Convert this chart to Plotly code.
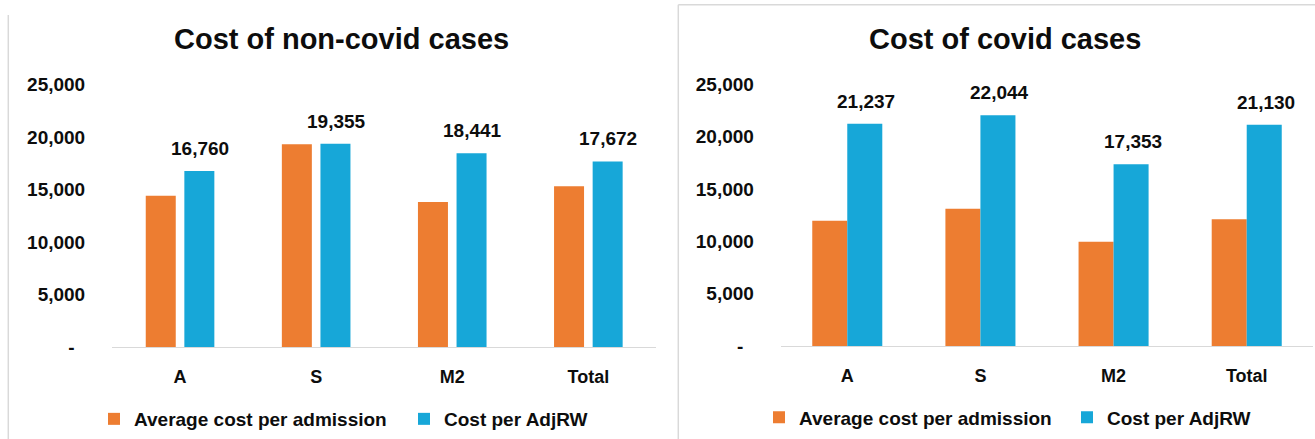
import plotly.graph_objects as go

# ---------------- data ----------------
categories = ["A", "S", "M2", "Total"]
series_names = ["Average cost per admission", "Cost per AdjRW"]
chart_titles = ["Cost of non-covid cases", "Cost of covid cases"]

noncovid_avg_cost = [14400, 19300, 13800, 15300]
noncovid_cost_adjrw = [16760, 19355, 18441, 17672]

covid_avg_cost = [11970, 13110, 9960, 12120]
covid_cost_adjrw = [21237, 22044, 17353, 21130]

y_tick_values = [0, 5000, 10000, 15000, 20000, 25000]
y_tick_labels = ["-\u00a0\u00a0", "5,000", "10,000", "15,000", "20,000", "25,000"]

# ---------------- styling ----------------
W, H = 1315, 439
ORANGE = "#ED7D31"
BLUE = "#17A7D8"
TEXT = "#0d0d0d"
GRID = "#d9d9d9"
FONT = "Liberation Sans, Arial, sans-serif"


def px(x):
    return x / W


def py(y):
    return 1 - y / H


fig = go.Figure()

# left chart (non-covid)
fig.add_trace(go.Bar(x=categories, y=noncovid_avg_cost, name=series_names[0],
                     marker=dict(color=ORANGE, line=dict(width=0)), legendwidth=265,
                     width=0.2204, offset=-0.252, xaxis="x", yaxis="y", legend="legend"))
fig.add_trace(go.Bar(x=categories, y=noncovid_cost_adjrw, name=series_names[1],
                     marker=dict(color=BLUE, line=dict(width=0)), legendwidth=150,
                     width=0.2204, offset=0.0316, xaxis="x", yaxis="y", legend="legend"))

# right chart (covid)
fig.add_trace(go.Bar(x=categories, y=covid_avg_cost, name=series_names[0],
                     marker=dict(color=ORANGE, line=dict(width=0)), legendwidth=263,
                     width=0.263, offset=-0.263, xaxis="x2", yaxis="y2", legend="legend2"))
fig.add_trace(go.Bar(x=categories, y=covid_cost_adjrw, name=series_names[1],
                     marker=dict(color=BLUE, line=dict(width=0)), legendwidth=150,
                     width=0.263, offset=0.0, xaxis="x2", yaxis="y2", legend="legend2"))

annotations = []
# data labels above the blue bars
for c, v in zip(categories, noncovid_cost_adjrw):
    annotations.append(dict(x=c, y=v, xref="x", yref="y", text=f"{v:,}", showarrow=False,
                            yanchor="bottom", yshift=10, xshift=20,
                            font=dict(family=FONT, size=19, color=TEXT, weight="bold")))
for c, v in zip(categories, covid_cost_adjrw):
    annotations.append(dict(x=c, y=v, xref="x2", yref="y2", text=f"{v:,}", showarrow=False,
                            yanchor="bottom", yshift=10, xshift=19,
                            font=dict(family=FONT, size=19, color=TEXT, weight="bold")))

# chart titles
for t, cx in zip(chart_titles, [341.7, 1005.4]):
    annotations.append(dict(x=px(cx), y=py(38.7), xref="paper", yref="paper", text=t,
                            showarrow=False, xanchor="center", yanchor="middle",
                            font=dict(family=FONT, size=29, color=TEXT, weight="bold")))

xaxis_common = dict(type="category", range=[-0.5, 3.5], showgrid=False, zeroline=False,
                    showline=True, linecolor=GRID, linewidth=1,
                    ticks="outside", ticklen=13, tickcolor="rgba(0,0,0,0)",
                    tickfont=dict(family=FONT, size=18, color=TEXT, weight="bold"),
                    fixedrange=True, automargin=False)
yaxis_common = dict(range=[0, 25000], tickmode="array", tickvals=y_tick_values,
                    ticktext=y_tick_labels, showgrid=False, zeroline=False, showline=False,
                    ticks="outside", ticklen=22, tickcolor="rgba(0,0,0,0)",
                    tickfont=dict(family=FONT, size=19, color=TEXT, weight="bold"),
                    fixedrange=True, automargin=False)

legend_common = dict(orientation="h", xanchor="left", yanchor="middle",
                     bgcolor="rgba(0,0,0,0)", borderwidth=0,
                     font=dict(family=FONT, size=19, color=TEXT, weight="bold"),
                     itemclick=False, itemdoubleclick=False)

fig.update_layout(
    width=W, height=H, autosize=False,
    margin=dict(l=0, r=0, t=0, b=0, autoexpand=False),
    paper_bgcolor="white", plot_bgcolor="white",
    barmode="group",
    hovermode=False,
    xaxis=dict(domain=[px(112), px(656.4)], anchor="y", **xaxis_common),
    yaxis=dict(domain=[py(347.3), py(84.3)], anchor="x", **yaxis_common),
    xaxis2=dict(domain=[px(780.7), px(1313.3)], anchor="y2", **xaxis_common),
    yaxis2=dict(domain=[py(346), py(84.3)], anchor="x2", **yaxis_common),
    legend=dict(x=px(94), y=py(419), **legend_common),
    legend2=dict(x=px(759), y=py(417.5), **legend_common),
    annotations=annotations,
    shapes=[
        dict(type="line", xref="paper", yref="paper", x0=px(8.3), x1=px(8.3), y0=py(15), y1=0,
             line=dict(color=GRID, width=1.5)),
        dict(type="line", xref="paper", yref="paper", x0=px(678.3), x1=px(678.3), y0=py(4.7), y1=0,
             line=dict(color=GRID, width=1.5)),
        dict(type="line", xref="paper", yref="paper", x0=px(678.3), x1=1, y0=py(4.7), y1=py(4.7),
             line=dict(color=GRID, width=1.5)),
    ],
    showlegend=True,
)

fig.write_html("out.html",
               config={"displayModeBar": False, "staticPlot": False},
               post_script="document.body.style.margin='0';document.body.style.overflow='hidden';")
